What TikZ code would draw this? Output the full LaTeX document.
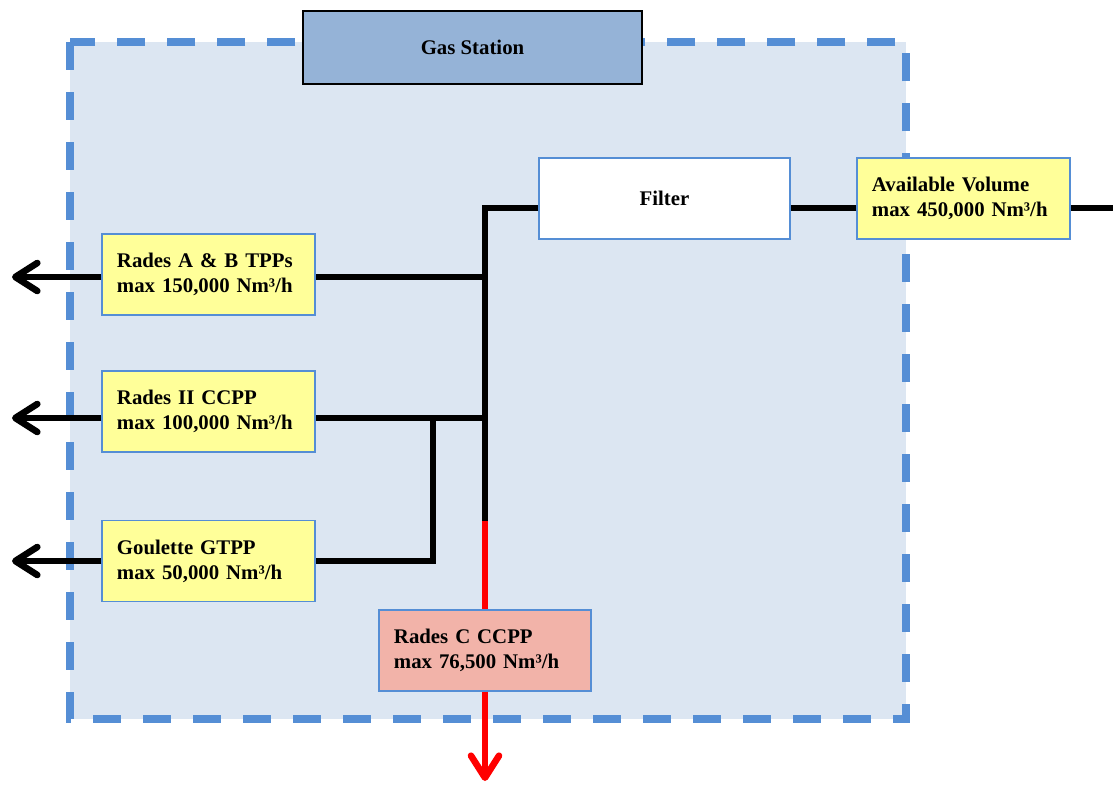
\documentclass[tikz,border=0pt]{standalone}
\usepackage{fontspec}
\setmainfont{Liberation Serif}
\usepackage{tikz}
\usetikzlibrary{arrows.meta}
\usetikzlibrary{positioning}

\definecolor{stationfill}{HTML}{DCE6F2}
\definecolor{stationdash}{HTML}{558ED5}
\definecolor{headerfill}{HTML}{95B3D7}
\definecolor{boxline}{HTML}{558ED5}
\definecolor{plantfill}{HTML}{FFFF99}
\definecolor{plantcfill}{HTML}{F2B3A9}

\begin{document}
\begin{tikzpicture}[x=0.025cm, y=-0.025cm,
    every node/.style={font=\fontsize{14.8}{17.8}\selectfont\bfseries},
    plant/.style={draw=boxline, line width=0.8pt, fill=plantfill, minimum height=2.025cm,
        text width=4.575cm, inner xsep=0.375cm, align=left},
    pipe/.style={line width=0.165cm},
    outlet/.style={pipe, -{Straight Barb[length=0.55cm, width=0.7cm, round]}}]
    \useasboundingbox (0,0) rectangle (1113,785);

    \fill[stationfill] (70,42) rectangle (906,719);
    \draw[stationdash, line width=0.18cm, dash pattern=on 0.7cm off 0.55cm] (70,42) rectangle (906,719);

    \node[draw, fill=headerfill, line width=1pt, minimum width=8.475cm, minimum height=1.825cm] (station) at (472.5,47.5) {Gas Station};
    \node[draw=boxline, fill=white, line width=0.8pt, minimum width=6.275cm, minimum height=2.025cm] (filter) at (664.5,198.5) {Filter};
    \node[plant] (supply) at (963.5,198.5) {Available Volume\\max 450,000 Nm³/h};
    \node[plant] (radesab) at (208.5,274.5) {Rades A \& B TPPs\\max 150,000 Nm³/h};
    \node[plant] (radesii) at (208.5,411.5) {Rades II CCPP\\max 100,000 Nm³/h};
    \node[plant] (goulette) at (208.5,561) {Goulette GTPP\\max 50,000 Nm³/h};
    \node[plant, fill=plantcfill, text width=4.55cm] (radesc) at (485,650.5) {Rades C CCPP\\max 76,500 Nm³/h};

    \coordinate (top) at (485,208);
    \coordinate (split) at (485,521);
    \coordinate (tab) at (485,277);
    \coordinate (tii) at (485,418);
    \coordinate (branch) at (433,418);
    \coordinate (inlet) at (1113,208);
    \coordinate (outab) at (12,277);
    \coordinate (outii) at (12,418);
    \coordinate (outg) at (12,561);
    \coordinate (outc) at (485,781);

    \draw[pipe] (filter.west |- top) -- (top) -- (split);
    \draw[pipe] (supply.west |- top) -- (filter.east |- top);
    \draw[pipe] (inlet) -- (supply.east |- top);
    \draw[pipe] (tab) -- (radesab.east |- tab);
    \draw[pipe] (tii) -- (radesii.east |- tii);
    \draw[pipe] (branch) |- (goulette.east);
    \draw[outlet] (radesab.west |- tab) -- (outab);
    \draw[outlet] (radesii.west |- tii) -- (outii);
    \draw[outlet] (goulette.west) -- (outg);
    \draw[pipe, red] (split) -- (radesc.north);
    \draw[outlet, red] (radesc.south) -- (outc);
\end{tikzpicture}
\end{document}
